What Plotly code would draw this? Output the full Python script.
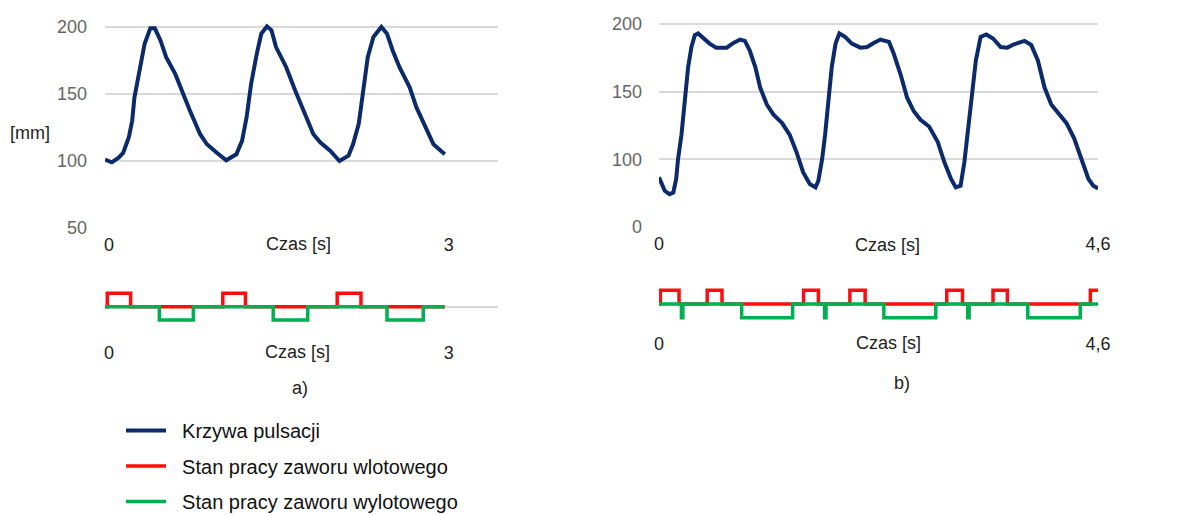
import plotly.graph_objects as go

# ---------------- data ----------------
# panel a) pulsation curve
t_a = [0, 0.06, 0.12, 0.16, 0.21, 0.24, 0.26, 0.31, 0.35, 0.40, 0.44, 0.49, 0.54, 0.62, 0.69,
       0.75, 0.84, 0.90, 0.99, 1.07, 1.16, 1.21, 1.25, 1.29, 1.34, 1.38, 1.43, 1.47, 1.51, 1.60,
       1.68, 1.75, 1.84, 1.90, 1.99, 2.07, 2.15, 2.19, 2.24, 2.28, 2.32, 2.37, 2.44, 2.49, 2.54,
       2.60, 2.69, 2.75, 2.84, 2.90, 3.0]
y_a = [101, 99, 102.5, 106, 117.5, 130, 147.5, 170, 187.5, 199, 199, 190, 177.5, 165, 150,
       137.5, 120, 112.5, 106, 100.5, 105, 115, 132.5, 157.5, 180, 195, 200.5, 197.5, 185, 170,
       152.5, 137.5, 120, 114, 107.5, 100, 104, 112.5, 127.5, 152.5, 177.5, 192.5, 200, 195, 182.5,
       170, 155, 140, 122.5, 112.5, 105]

# panel b) pulsation curve
t_b = [0, 0.025, 0.06, 0.11, 0.15, 0.18, 0.20, 0.235, 0.27, 0.305, 0.34, 0.375, 0.41, 0.46, 0.53,
       0.60, 0.71, 0.78, 0.85, 0.90, 0.95, 1.01, 1.06, 1.13, 1.20, 1.29, 1.37, 1.44, 1.51, 1.58,
       1.64, 1.67, 1.71, 1.74, 1.78, 1.81, 1.85, 1.89, 1.95, 2.02, 2.11, 2.18, 2.25, 2.32, 2.41,
       2.46, 2.53, 2.60, 2.67, 2.74, 2.83, 2.92, 2.99, 3.06, 3.11, 3.16, 3.20, 3.23, 3.29, 3.32,
       3.37, 3.43, 3.50, 3.58, 3.65, 3.72, 3.83, 3.90, 3.97, 4.04, 4.11, 4.18, 4.27, 4.35, 4.42,
       4.50, 4.55, 4.6]
y_b = [86.75, 81.75, 76.75, 74.25, 75.5, 85.5, 100.5, 118, 143, 168, 183, 191.75, 193, 190, 185.5,
       182.5, 182.5, 186, 188.5, 187.5, 180.5, 168, 153, 140.5, 133, 126.75, 118, 105.5, 90.5, 81.75,
       79.25, 84.25, 100.5, 118, 143, 168, 185.5, 193, 190.5, 185.5, 182.5, 183, 186, 188.5, 186.75,
       178, 163, 145.5, 135.5, 129.25, 124.25, 113, 98, 85.5, 79.25, 80.5, 98, 118, 153, 173,
       190.5, 192.25, 189.25, 183, 182.5, 185, 187.5, 184.5, 173, 153, 140.5, 134.25, 126.75, 115.5, 100.5,
       85.5, 80.5, 78.5]

# valve states (1 = inlet open, -1 = outlet open, 0 = closed), step times
red_a_t = [0, 0.02, 0.226, 1.04, 1.24, 2.05, 2.26, 3.0]
red_a_v = [0, 1, 0, 1, 0, 1, 0, 0]
green_a_t = [0, 0.48, 0.78, 1.485, 1.79, 2.49, 2.81, 3.0]
green_a_v = [0, -1, 0, -1, 0, -1, 0, 0]

red_b_t = [0, 0.014, 0.21, 0.505, 0.66, 1.515, 1.67, 2.0, 2.16, 3.015, 3.18, 3.5, 3.65, 4.52, 4.6]
red_b_v = [0, 1, 0, 1, 0, 1, 0, 1, 0, 1, 0, 1, 0, 1, 1]
green_b_t = [0, 0.235, 0.25, 0.866, 1.40, 1.735, 1.75, 2.356, 2.90, 3.235, 3.25, 3.864, 4.414, 4.6]
green_b_v = [0, -1, 0, -1, 0, -1, 0, -1, 0, -1, 0, -1, 0, 0]

ytick_vals = [50, 100, 150, 200]
ytick_a = ["50", "100", "150", "200"]
ytick_b = ["0", "100", "150", "200"]

names = ["Krzywa pulsacji", "Stan pracy zaworu wlotowego", "Stan pracy zaworu wylotowego"]
NAVY, RED, GREEN = "#0b2a6b", "#ff0d0d", "#00b050"

# page has an 8px body margin: figure sized to fit the 1190x515 window
OFF = 8
W, H = 1190 - OFF, 515 - OFF
def fx(p): return (p - OFF) / W
def fy(p): return (H - (p - OFF)) / H

PAD = "\u00a0\u00a0"  # gap between legend line and its text

fig = go.Figure()
# top curves
fig.add_trace(go.Scatter(x=t_a, y=y_a, mode="lines", line=dict(color=NAVY, width=4),
                         name=PAD + names[0], legendgroup="g0", xaxis="x", yaxis="y"))
fig.add_trace(go.Scatter(x=t_b, y=y_b, mode="lines", line=dict(color=NAVY, width=4),
                         name=PAD + names[0], legendgroup="g0", showlegend=False, xaxis="x2", yaxis="y2"))
# valve states a
fig.add_trace(go.Scatter(x=red_a_t, y=red_a_v, mode="lines", line=dict(color=RED, width=3.5, shape="hv"),
                         name=PAD + names[1], legendgroup="g1", xaxis="x3", yaxis="y3"))
fig.add_trace(go.Scatter(x=green_a_t, y=green_a_v, mode="lines", line=dict(color=GREEN, width=3.5, shape="hv"),
                         name=PAD + names[2], legendgroup="g2", xaxis="x3", yaxis="y3"))
# valve states b
fig.add_trace(go.Scatter(x=red_b_t, y=red_b_v, mode="lines", line=dict(color=RED, width=3.5, shape="hv"),
                         name=PAD + names[1], legendgroup="g1", showlegend=False, xaxis="x4", yaxis="y4"))
fig.add_trace(go.Scatter(x=green_b_t, y=green_b_v, mode="lines", line=dict(color=GREEN, width=3.5, shape="hv"),
                         name=PAD + names[2], legendgroup="g2", showlegend=False, xaxis="x4", yaxis="y4"))

font = "Liberation Sans, Arial, sans-serif"
GRID = "#d9d9d9"

xa_common = dict(showgrid=False, zeroline=False, showline=False, ticks="", automargin=False,
                 tickfont=dict(family=font, size=18, color="#222"))
ya_common = dict(automargin=False, ticks="")
fig.update_layout(
    width=W, height=H, margin=dict(l=0, r=0, t=0, b=0, autoexpand=False),
    paper_bgcolor="white", plot_bgcolor="white",
    font=dict(family=font, color="#222"),
    xaxis=dict(domain=[fx(105), fx(498)], range=[0, 3.47], tickvals=[0, 3], ticktext=["0", "3"],
               anchor="y", ticklabelstandoff=4, ticklabelshift=4, **xa_common),
    yaxis=dict(domain=[fy(228), fy(20.3)], range=[50, 205], tickvals=ytick_vals, ticktext=ytick_a,
               gridcolor=GRID, gridwidth=1.5, zeroline=False, anchor="x",
               ticklabelstandoff=17, tickfont=dict(family=font, size=18, color="#666"), **ya_common),
    xaxis2=dict(domain=[fx(659), fx(1098)], range=[0, 4.6], tickvals=[0, 4.6], ticktext=["0", "4,6"],
                anchor="y2", ticklabelstandoff=4, **xa_common),
    yaxis2=dict(domain=[fy(227), fy(17.2)], range=[50, 205], tickvals=ytick_vals, ticktext=ytick_b,
                gridcolor=GRID, gridwidth=1.5, zeroline=False, anchor="x2",
                ticklabelstandoff=16, tickfont=dict(family=font, size=18, color="#666"), **ya_common),
    xaxis3=dict(domain=[fx(105), fx(498)], range=[0, 3.47], tickvals=[0, 3], ticktext=["0", "3"],
                anchor="y3", ticklabelstandoff=13, ticklabelshift=4, **xa_common),
    yaxis3=dict(domain=[fy(326.8), fy(286.6)], range=[-1.5, 1.5], showticklabels=False, showgrid=False,
                zeroline=True, zerolinecolor=GRID, zerolinewidth=1.5, anchor="x3", **ya_common),
    xaxis4=dict(domain=[fx(659), fx(1098)], range=[0, 4.6], tickvals=[0, 4.6], ticktext=["0", "4,6"],
                anchor="y4", ticklabelstandoff=6, **xa_common),
    yaxis4=dict(domain=[fy(324.5), fy(283.5)], range=[-1.5, 1.5], showticklabels=False, showgrid=False,
                zeroline=True, zerolinecolor=GRID, zerolinewidth=1.5, anchor="x4", **ya_common),
    legend=dict(x=fx(121), y=fy(411), xanchor="left", yanchor="top", tracegroupgap=6.5, itemwidth=40,
                font=dict(family=font, size=20, color="#111"), bgcolor="rgba(0,0,0,0)"),
    showlegend=True,
)

ann = [
    dict(text="Czas [s]", x=fx(298), y=fy(244)),
    dict(text="Czas [s]", x=fx(887), y=fy(245)),
    dict(text="Czas [s]", x=fx(297), y=fy(352)),
    dict(text="Czas [s]", x=fx(888), y=fy(343)),
    dict(text="a)", x=fx(300), y=fy(388)),
    dict(text="b)", x=fx(902), y=fy(383)),
    dict(text="[mm]", x=fx(30), y=fy(133)),
]
for a in ann:
    fig.add_annotation(xref="paper", yref="paper", showarrow=False, xanchor="center", yanchor="middle",
                       font=dict(family=font, size=18, color="#222"), **a)

fig.write_html("out.html")
